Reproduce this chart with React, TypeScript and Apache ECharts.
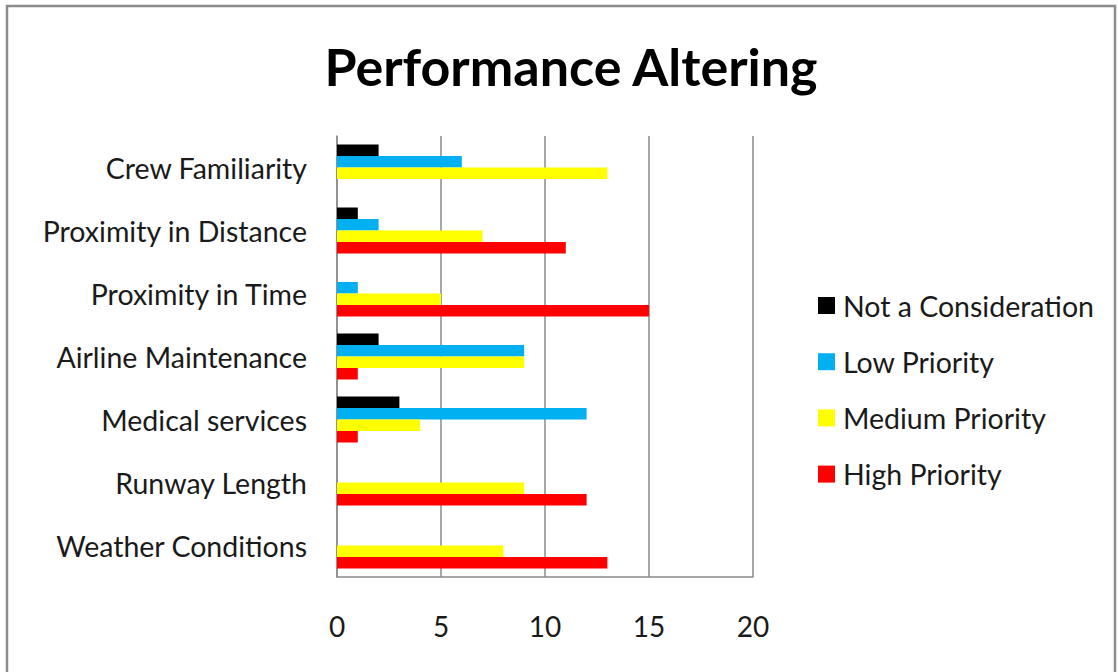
import React, { useEffect, useRef } from "react";
import * as echarts from "echarts";

// Categories listed top to bottom
const categories = [
  "Crew Familiarity",
  "Proximity in Distance",
  "Proximity in Time",
  "Airline Maintenance",
  "Medical services",
  "Runway Length",
  "Weather Conditions",
];

const seriesNames = ["Not a Consideration", "Low Priority", "Medium Priority", "High Priority"];
const seriesColors = ["#000000", "#00B0F0", "#FFFF00", "#FF0000"];

const notConsideration = [2, 1, 0, 2, 3, 0, 0];
const lowPriority = [6, 2, 1, 9, 12, 0, 0];
const mediumPriority = [13, 7, 5, 9, 4, 9, 8];
const highPriority = [0, 11, 15, 1, 1, 12, 13];

const xTicks = { min: 0, max: 20, interval: 5 };

const FONT = "Lato, 'Open Sans', sans-serif";

export default function App() {
  const ref = useRef<HTMLDivElement>(null);

  useEffect(() => {
    document.body.style.margin = "0";
    if (!ref.current) return;
    const chart = echarts.init(ref.current, undefined, { renderer: "svg" });
    const values = [notConsideration, lowPriority, mediumPriority, highPriority];
    chart.setOption({
      animation: false,
      backgroundColor: "#ffffff",
      title: {
        text: "Performance Altering",
        left: 566,
        top: 35,
        textAlign: "center",
        textStyle: { fontFamily: FONT, fontWeight: "bold", fontSize: 52, color: "#000" },
      },
      legend: {
        orient: "vertical",
        left: 813,
        top: 286,
        itemWidth: 17,
        itemHeight: 17,
        itemGap: 27.2,
        icon: "rect",
        data: seriesNames,
        textStyle: {
          fontFamily: FONT,
          fontSize: 28.5,
          lineHeight: 28,
          color: "#1a1a1a",
          padding: [0, 0, 0, 3],
        },
      },
      grid: { left: 337, right: 365, top: 136, bottom: 95, containLabel: false },
      xAxis: {
        type: "value",
        min: xTicks.min,
        max: xTicks.max,
        interval: xTicks.interval,
        axisLine: { show: true, lineStyle: { color: "#8a8a8a", width: 1.5 } },
        axisTick: { show: false },
        splitLine: { show: true, lineStyle: { color: "#8a8a8a", width: 1.5 } },
        axisLabel: { margin: 35, fontFamily: FONT, fontSize: 28, color: "#1a1a1a" },
      },
      yAxis: {
        type: "category",
        inverse: true,
        data: categories,
        axisLine: { show: true, lineStyle: { color: "#8a8a8a", width: 1.5 } },
        axisTick: { show: false },
        axisLabel: { margin: 30, fontFamily: FONT, fontSize: 28.5, color: "#1a1a1a" },
      },
      series: seriesNames.map((name, i) => ({
        name,
        type: "bar",
        data: values[i],
        barGap: "0%",
        barCategoryGap: "27%",
        itemStyle: { color: seriesColors[i] },
      })),
      graphic: [
        {
          type: "rect",
          shape: { x: 7, y: 6, width: 1108, height: 700 },
          style: { fill: "none", stroke: "#8c8c8c", lineWidth: 2.5 },
          silent: true,
        },
      ],
    });
    return () => chart.dispose();
  }, []);

  return <div ref={ref} style={{ width: 1118, height: 672 }} />;
}
